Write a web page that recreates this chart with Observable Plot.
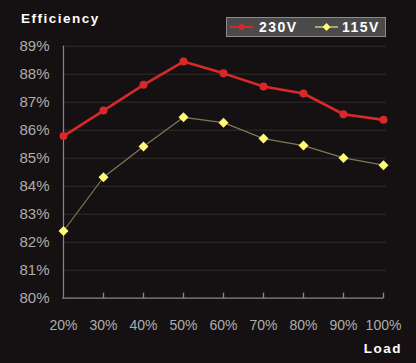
<!DOCTYPE html>
<html>
<head>
<meta charset="utf-8">
<script src="https://cdn.jsdelivr.net/npm/d3@7"></script>
<script src="https://cdn.jsdelivr.net/npm/@observablehq/plot@0.6"></script>
<style>
  html, body { margin: 0; padding: 0; background: #151112; }
  #chart { position: relative; width: 416px; height: 363px; }
</style>
</head>
<body>
<div id="chart"></div>
<script>
const loads = ["20%", "30%", "40%", "50%", "60%", "70%", "80%", "90%", "100%"];
const eff230 = [85.79, 86.70, 87.62, 88.45, 88.03, 87.56, 87.31, 86.57, 86.37];
const eff115 = [82.40, 84.32, 85.42, 86.46, 86.27, 85.70, 85.45, 85.01, 84.75];
const yTicks = [80, 81, 82, 83, 84, 85, 86, 87, 88, 89];
const seriesNames = ["230V", "115V"];
const seriesColors = ["#d8292a", "#fffb78"];
const lineColors = ["#d8292a", "#7f7a52"];

const d230 = loads.map((l, i) => ({load: l, v: eff230[i]}));
const d115 = loads.map((l, i) => ({load: l, v: eff115[i]}));

const font = "'Liberation Sans', Arial, sans-serif";

// small upward tick drawn as a custom symbol
const upTick = {draw(ctx) { ctx.moveTo(0, 0); ctx.lineTo(0, -5.5); }};

const plot = Plot.plot({
  width: 416,
  height: 363,
  marginLeft: 62,
  marginRight: 33,
  marginTop: 45.7,
  marginBottom: 65.3,
  style: {background: "#151112", color: "#aaa", fontFamily: font, fontSize: "14px"},
  x: {type: "point", domain: loads, padding: 0, label: null},
  y: {type: "linear", domain: [80, 89], label: null},
  marks: [
    Plot.ruleY(yTicks.slice(1), {stroke: "#332e2e", strokeWidth: 1, insetRight: -3}),
    Plot.axisY({ticks: yTicks, tickSize: 0, tickPadding: 13, tickFormat: d => d + "%", fill: "#b0acac", fontSize: 15, label: null}),
    Plot.axisX({tickSize: 0, tickPadding: 22, fill: "#b0acac", fontSize: 14, label: null}),
    Plot.ruleX([loads[0]], {y1: 80, y2: 89, stroke: "#8a8686", strokeWidth: 1.2}),
    Plot.ruleY([80], {stroke: "#8a8686", strokeWidth: 1.2}),
    Plot.dot(loads.slice(1), {x: d => d, y: () => 80, symbol: upTick, stroke: "#8a8686", strokeWidth: 1.4, fill: "none"}),
    Plot.line(d115, {x: "load", y: "v", stroke: lineColors[1], strokeWidth: 1.2}),
    Plot.dot(d115, {x: "load", y: "v", symbol: "diamond2", r: 4.5, fill: seriesColors[1], stroke: "none"}),
    Plot.line(d230, {x: "load", y: "v", stroke: lineColors[0], strokeWidth: 2.6}),
    Plot.dot(d230, {x: "load", y: "v", r: 4, fill: seriesColors[0], stroke: "none"})
  ]
});

document.getElementById("chart").appendChild(plot);

// Title, axis label and legend as SVG overlays
const svg = d3.select(plot);
svg.append("text").attr("x", 21).attr("y", 22.5).text("Efficiency")
  .attr("text-anchor", "start")
  .attr("fill", "#fff").attr("font-weight", "bold").attr("font-size", 13.5)
  .attr("letter-spacing", "1.5px").attr("font-family", font);
svg.append("text").attr("x", 402).attr("y", 353).attr("text-anchor", "end").text("Load")
  .attr("fill", "#fff").attr("font-weight", "bold").attr("font-size", 13.5)
  .attr("letter-spacing", "1.5px").attr("font-family", font);

const lg = svg.append("g");
lg.append("rect").attr("x", 226.5).attr("y", 17.5).attr("width", 159).attr("height", 19)
  .attr("fill", "#4b4a4a").attr("stroke", "#8c8b8b").attr("stroke-width", 1);
const items = [
  {x0: 230, x1: 253, tx: 259},
  {x0: 315, x1: 338, tx: 342}
];
items.forEach((it, i) => {
  lg.append("line").attr("x1", it.x0).attr("x2", it.x1).attr("y1", 27).attr("y2", 27)
    .attr("stroke", i === 0 ? lineColors[0] : "#c8c47a").attr("stroke-width", i === 0 ? 2 : 1.5);
  const cx = (it.x0 + it.x1) / 2;
  if (i === 0) {
    lg.append("circle").attr("cx", cx).attr("cy", 27).attr("r", 3).attr("fill", seriesColors[0]);
  } else {
    lg.append("path").attr("d", `M${cx},${27-4}L${cx+4},27L${cx},${27+4}L${cx-4},27Z`).attr("fill", seriesColors[1]);
  }
  lg.append("text").attr("x", it.tx).attr("y", 32).text(seriesNames[i])
    .attr("text-anchor", "start")
    .attr("fill", "#fff").attr("font-weight", "bold").attr("font-size", 14)
    .attr("letter-spacing", "1.5px").attr("font-family", font);
});
</script>
</body>
</html>
